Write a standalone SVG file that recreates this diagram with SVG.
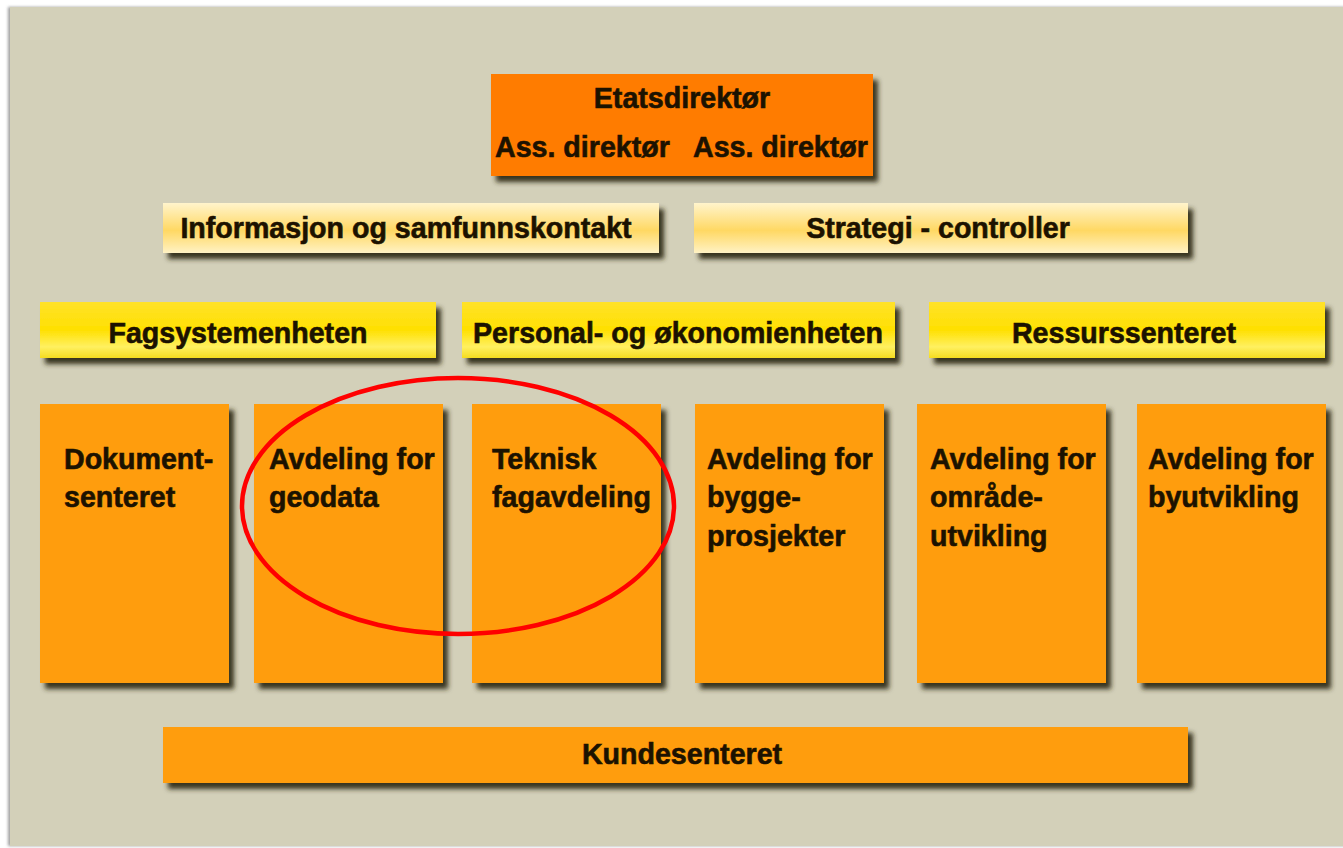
<svg xmlns="http://www.w3.org/2000/svg" width="1343" height="848" viewBox="0 0 1343 848">
  <defs>
    <filter id="shadow" x="-10%" y="-10%" width="125%" height="140%">
      <feDropShadow dx="5" dy="6" stdDeviation="2.8" flood-color="#2f2c18" flood-opacity="0.95"/>
    </filter>
    <filter id="panelShadow" x="-5%" y="-5%" width="110%" height="110%">
      <feDropShadow dx="-2" dy="0" stdDeviation="1.5" flood-color="#888" flood-opacity="0.8"/>
    </filter>
    <linearGradient id="paleFill" x1="0" y1="0" x2="0" y2="1">
      <stop offset="0" stop-color="#fff4cc"/>
      <stop offset="0.55" stop-color="#ffd863"/>
      <stop offset="1" stop-color="#fff2c4"/>
    </linearGradient>
    <linearGradient id="yellowFill" x1="0" y1="0" x2="0" y2="1">
      <stop offset="0" stop-color="#ffe22a"/>
      <stop offset="0.5" stop-color="#ffe000"/>
      <stop offset="0.8" stop-color="#fff060"/>
      <stop offset="1" stop-color="#f5dc20"/>
    </linearGradient>
    <style>
      .lbl { font-family: "Liberation Sans", Arial, sans-serif; font-weight: bold; font-size: 28.6px; fill: #1c1200; stroke: #1c1200; stroke-width: 0.6px; }
      .mid { text-anchor: middle; }
      .dir { fill: #ff7c00; }
      .pale { fill: url(#paleFill); }
      .unit { fill: url(#yellowFill); }
      .dept { fill: #ff9d0a; }
    </style>
  </defs>

  <!-- page background and panel -->
  <rect x="0" y="0" width="1343" height="848" fill="#ffffff"/>
  <rect x="10" y="7" width="1345" height="839" fill="#d3d0b9" filter="url(#panelShadow)"/>

  <!-- management -->
  <g id="etatsdirektor">
    <rect class="dir" x="491" y="74" width="382" height="102" filter="url(#shadow)"/>
    <text class="lbl mid" x="682" y="108">Etatsdirektør</text>
    <text class="lbl" x="495" y="157">Ass. direktør</text>
    <text class="lbl" x="693" y="157">Ass. direktør</text>
  </g>

  <!-- staff functions -->
  <g id="informasjon">
    <rect class="pale" x="163" y="203" width="496" height="50" filter="url(#shadow)"/>
    <text class="lbl mid" x="406" y="238">Informasjon og samfunnskontakt</text>
  </g>
  <g id="strategi">
    <rect class="pale" x="694" y="203" width="494" height="50" filter="url(#shadow)"/>
    <text class="lbl mid" x="938" y="238">Strategi - controller</text>
  </g>

  <!-- units -->
  <g id="fagsystemenheten">
    <rect class="unit" x="40" y="302" width="396" height="56" filter="url(#shadow)"/>
    <text class="lbl mid" x="238" y="343">Fagsystemenheten</text>
  </g>
  <g id="personal">
    <rect class="unit" x="462" y="302" width="433" height="56" filter="url(#shadow)"/>
    <text class="lbl mid" x="678" y="343">Personal- og økonomienheten</text>
  </g>
  <g id="ressurssenteret">
    <rect class="unit" x="929" y="302" width="396" height="56" filter="url(#shadow)"/>
    <text class="lbl mid" x="1124" y="343">Ressurssenteret</text>
  </g>

  <!-- departments -->
  <g id="dokumentsenteret">
    <rect class="dept" x="40" y="404" width="189" height="279" filter="url(#shadow)"/>
    <text class="lbl" x="64" y="469">Dokument-</text>
    <text class="lbl" x="64" y="507">senteret</text>
  </g>
  <g id="geodata">
    <rect class="dept" x="254" y="404" width="189" height="279" filter="url(#shadow)"/>
    <text class="lbl" x="269" y="469">Avdeling for</text>
    <text class="lbl" x="269" y="507">geodata</text>
  </g>
  <g id="teknisk">
    <rect class="dept" x="472" y="404" width="189" height="279" filter="url(#shadow)"/>
    <text class="lbl" x="492" y="469">Teknisk</text>
    <text class="lbl" x="492" y="507">fagavdeling</text>
  </g>
  <g id="byggeprosjekter">
    <rect class="dept" x="695" y="404" width="189" height="279" filter="url(#shadow)"/>
    <text class="lbl" x="707" y="469">Avdeling for</text>
    <text class="lbl" x="707" y="507">bygge-</text>
    <text class="lbl" x="707" y="546">prosjekter</text>
  </g>
  <g id="omradeutvikling">
    <rect class="dept" x="917" y="404" width="189" height="279" filter="url(#shadow)"/>
    <text class="lbl" x="930" y="469">Avdeling for</text>
    <text class="lbl" x="930" y="507">område-</text>
    <text class="lbl" x="930" y="546">utvikling</text>
  </g>
  <g id="byutvikling">
    <rect class="dept" x="1137" y="404" width="189" height="279" filter="url(#shadow)"/>
    <text class="lbl" x="1148" y="469">Avdeling for</text>
    <text class="lbl" x="1148" y="507">byutvikling</text>
  </g>

  <!-- customer centre -->
  <g id="kundesenteret">
    <rect class="dept" x="163" y="727" width="1025" height="56" filter="url(#shadow)"/>
    <text class="lbl mid" x="682" y="764">Kundesenteret</text>
  </g>

  <!-- highlight ring -->
  <g id="connectors">
    <ellipse cx="458" cy="506" rx="216" ry="128" fill="none" stroke="#ff0000" stroke-width="4.5"/>
  </g>
</svg>
